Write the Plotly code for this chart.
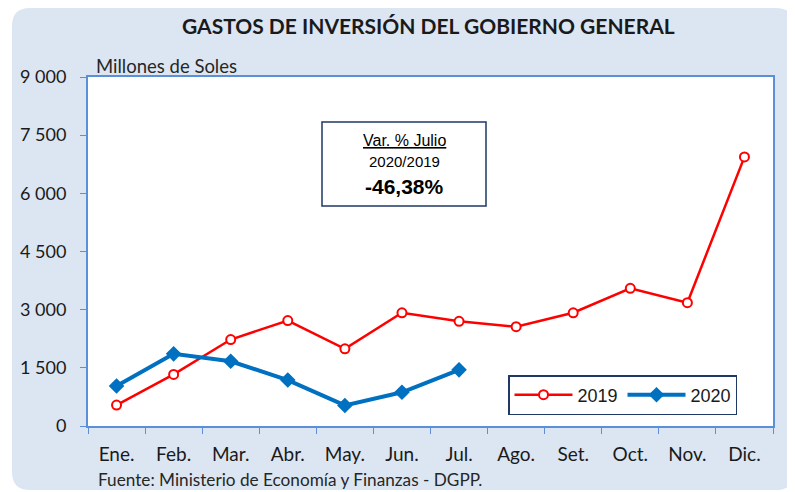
import plotly.graph_objects as go

months = ["Ene.", "Feb.", "Mar.", "Abr.", "May.", "Jun.", "Jul.", "Ago.", "Set.", "Oct.", "Nov.", "Dic."]
y2019 = [540, 1330, 2230, 2720, 1990, 2920, 2700, 2560, 2920, 3550, 3180, 6940]
y2020 = [1030, 1860, 1670, 1185, 530, 870, 1448]
ytick_vals = [0, 1500, 3000, 4500, 6000, 7500, 9000]
ytick_text = ["0", "1 500", "3 000", "4 500", "6 000", "7 500", "9 000"]

OFF = 8  # page body margin
W, H = 795 - OFF, 492 - OFF
L, R, T, B = 88 - OFF, 22, 77 - OFF, 66
pw, ph = W - L - R, H - T - B

def px(x):
    return (x - OFF - L) / pw

def py(y):
    return (H - B - (y - OFF)) / ph

fig = go.Figure()
fig.add_trace(go.Scatter(
    x=months, y=y2019, name="2019", mode="lines+markers",
    line=dict(color="#ff0000", width=2.5),
    marker=dict(symbol="circle", size=9, color="white", line=dict(color="#ff0000", width=2)),
))
fig.add_trace(go.Scatter(
    x=months[:len(y2020)], y=y2020, name="2020", mode="lines+markers",
    line=dict(color="#0070c0", width=4),
    marker=dict(symbol="diamond", size=12, color="#0070c0"),
))

# rounded background
x0, x1, y0, y1, r = 12, 794, 8, 490, 18
path = (f"M {px(x0+r)},{py(y0)} L {px(x1-r)},{py(y0)} Q {px(x1)},{py(y0)} {px(x1)},{py(y0+r)} "
        f"L {px(x1)},{py(y1-r)} Q {px(x1)},{py(y1)} {px(x1-r)},{py(y1)} "
        f"L {px(x0+r)},{py(y1)} Q {px(x0)},{py(y1)} {px(x0)},{py(y1-r)} "
        f"L {px(x0)},{py(y0+r)} Q {px(x0)},{py(y0)} {px(x0+r)},{py(y0)} Z")
fig.add_shape(type="path", path=path, xref="paper", yref="paper",
              fillcolor="#dce6f2", line=dict(width=0), layer="below")
fig.add_shape(type="rect", xref="paper", yref="paper", x0=0, x1=1, y0=0, y1=1,
              fillcolor="white", line=dict(width=0), layer="below")

# annotation box
fig.add_shape(type="rect", xref="paper", yref="paper", x0=px(322), x1=px(486), y0=py(206), y1=py(122),
              fillcolor="white", line=dict(color="#1f3864", width=1.5), layer="above")

fig.add_annotation(text="<b>GASTOS DE INVERSIÓN DEL GOBIERNO GENERAL</b>", xref="paper", yref="paper",
                   x=px(428), y=py(25), showarrow=False, xanchor="center", yanchor="middle",
                   font=dict(family="Lato", size=21, color="#1a1a1a"))
fig.add_annotation(text="Millones de Soles", xref="paper", yref="paper",
                   x=px(94), y=py(66), showarrow=False, xanchor="left", yanchor="middle",
                   font=dict(family="Lato", size=18.5, color="#262626"))
fig.add_annotation(text="Fuente: Ministerio de Economía y Finanzas - DGPP.", xref="paper", yref="paper",
                   x=px(96), y=py(480), showarrow=False, xanchor="left", yanchor="middle",
                   font=dict(family="Lato", size=17.2, color="#262626"))
box_font = "Liberation Sans, Arial"
fig.add_annotation(text="<u>Var. % Julio</u>", xref="paper", yref="paper", x=px(404), y=py(140),
                   showarrow=False, xanchor="center", yanchor="middle",
                   font=dict(family=box_font, size=16, color="#000"))
fig.add_annotation(text="2020/2019", xref="paper", yref="paper", x=px(404), y=py(161),
                   showarrow=False, xanchor="center", yanchor="middle",
                   font=dict(family=box_font, size=15, color="#000"))
fig.add_annotation(text="<b>-46,38%</b>", xref="paper", yref="paper", x=px(404), y=py(186),
                   showarrow=False, xanchor="center", yanchor="middle",
                   font=dict(family=box_font, size=21, color="#000"))

axis_color = "#5b8fd8"
fig.update_layout(
    width=W, height=H, margin=dict(l=L, r=R, t=T, b=B),
    paper_bgcolor="white", plot_bgcolor="rgba(0,0,0,0)",
    showlegend=True,
    legend=dict(orientation="h", x=px(508), y=py(375), xanchor="left", yanchor="top",
                bordercolor="#1f3864", borderwidth=1.5, bgcolor="white",
                font=dict(family="Liberation Sans, Arial", size=18, color="#1a1a1a"),
                itemwidth=58, entrywidth=40, tracegroupgap=0),
    xaxis=dict(type="category", tickson="boundaries", ticks="outside", ticklen=6,
               tickcolor=axis_color, showline=True, linecolor=axis_color, linewidth=2, mirror=True,
               showgrid=False, range=[-0.5, 11.5], ticklabelstandoff=10,
               tickfont=dict(family="Lato", size=19, color="#1a1a1a")),
    yaxis=dict(range=[0, 9000], tickvals=ytick_vals, ticktext=ytick_text, ticks="outside", ticklen=6,
               tickcolor=axis_color, showline=True, linecolor=axis_color, linewidth=2, mirror=True,
               showgrid=False, zeroline=False, ticklabelstandoff=10,
               tickfont=dict(family="Lato", size=18, color="#1a1a1a")),
)

fig.write_html("out.html", config={"displayModeBar": False})
